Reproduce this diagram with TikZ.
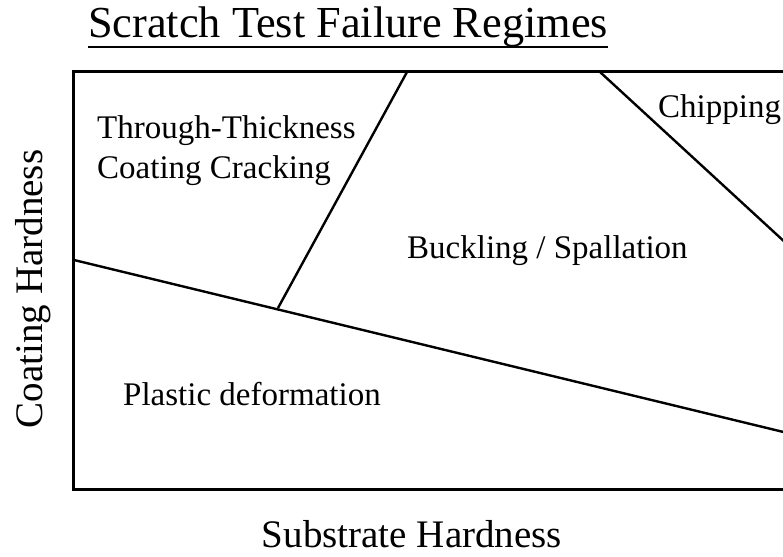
\documentclass[tikz,border=0pt]{standalone}
\usepackage{fontspec}
\setmainfont{Liberation Serif}
\begin{document}
\begin{tikzpicture}[x=1pt,y=-1pt,
  frame/.style={line width=3pt},
  divider/.style={line width=2.4pt},
  region/.style={inner sep=0pt,anchor=base west,align=left,font=\fontsize{33}{39.5}\selectfont},
  axislabel/.style={inner sep=0pt,anchor=base,font=\fontsize{39}{47}\selectfont},
  titlelabel/.style={inner sep=0pt,anchor=base west,font=\fontsize{44.3}{52}\selectfont}]
\useasboundingbox (0,0) rectangle (783,556);
\clip (0,0) rectangle (783,556);
% frame
\coordinate (tl) at (73,72);
\coordinate (bl) at (73,489);
\coordinate (tr) at (800,72);
\coordinate (br) at (800,489);
\draw[frame] (tr) -- (tl) -- (bl) -- (br);
% dividers
\coordinate (pA) at (74,260);
\coordinate (pB) at (800,436);
\coordinate (pJ) at (278,308);
\coordinate (pT) at (407,72);
\coordinate (pC) at (600,72);
\coordinate (pD) at (800,256);
\draw[divider] (pA) -- (pB);
\draw[divider] (pJ) -- (pT);
\draw[divider] (pC) -- (pD);
% title
\node[titlelabel] (title) at (88,38) {Scratch Test Failure Regimes};
\draw[line width=2pt] ([yshift=-9pt]title.base west) -- ([yshift=-9pt]title.base east);
% labels
\node[region] (ttc) at (97,178) {Through-Thickness\\Coating Cracking};
\node[region] (chip) at (658,118) {Chipping};
\node[region] (buck) at (407,258) {Buckling / Spallation};
\node[region] (plas) at (123,405) {Plastic deformation};
\node[axislabel,rotate=90] (ylab) at (42,289) {Coating Hardness};
\node[axislabel] (xlab) at (412,547) {Substrate Hardness};
\end{tikzpicture}
\end{document}
